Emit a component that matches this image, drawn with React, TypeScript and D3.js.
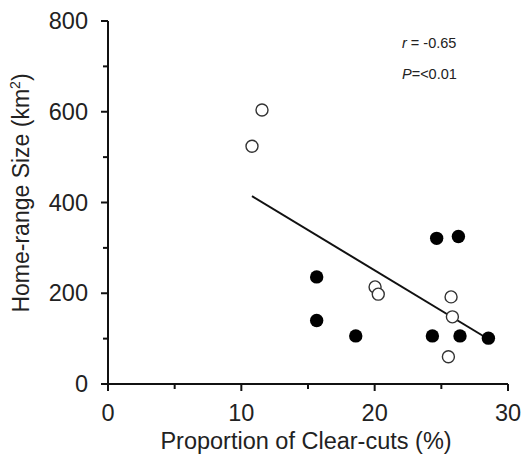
import * as d3 from "d3";

// values
const openX = [10.8, 11.55, 20.03, 20.27, 25.73, 25.83, 25.53];
const openY = [524, 604, 214, 198, 192, 148, 60];
const filledX = [24.65, 26.28, 15.65, 15.65, 18.58, 24.33, 26.4, 28.53];
const filledY = [321, 325, 236, 140, 106, 106, 106, 101];
const fitX = [10.8, 28.3];
const fitY = [414, 103];
const xTicks = [0, 10, 20, 30];
const xMinor = [5, 15, 25];
const yTicks = [0, 200, 400, 600, 800];
const yMinor = [100, 300, 500, 700];

const width = 522;
const height = 457;
const margin = {top: 21, right: 14, bottom: 73, left: 108};
const font = "Arial, 'Liberation Sans', sans-serif";

const App = () => {
    const x = d3.scaleLinear().domain([0, 30]).range([margin.left, width - margin.right]);
    const y = d3.scaleLinear().domain([0, 800]).range([height - margin.bottom, margin.top]);
    const line = d3.line<number>().x(i => x(fitX[i])).y(i => y(fitY[i]));
    const x0 = x(0);
    const y0 = y(0);

    return <svg width={width} height={height}
                style={{position: "absolute", left: 0, top: 0, background: "#fff"}}
                fontFamily={font}>
        {/* axes */}
        <g stroke="#111" strokeWidth={2} fill="none">
            <line x1={x0} x2={x(30)} y1={y0} y2={y0}/>
            <line x1={x0} x2={x0} y1={y0} y2={y(800)}/>
            {xTicks.map(t => <line key={"xt" + t} x1={x(t)} x2={x(t)} y1={y0} y2={y0 + 7}/>)}
            {xMinor.map(t => <line key={"xm" + t} x1={x(t)} x2={x(t)} y1={y0} y2={y0 + 5}/>)}
            {yTicks.map(t => <line key={"yt" + t} x1={x0} x2={x0 - 7} y1={y(t)} y2={y(t)}/>)}
            {yMinor.map(t => <line key={"ym" + t} x1={x0} x2={x0 - 5} y1={y(t)} y2={y(t)}/>)}
        </g>
        <g fontSize={23.5} fill="#222">
            {xTicks.map(t => <text key={"xl" + t} x={x(t)} y={y0 + 37} textAnchor="middle">{t}</text>)}
            {yTicks.map(t => <text key={"yl" + t} x={x0 - 20} y={y(t) + 8} textAnchor="end">{t}</text>)}
        </g>
        <text x={306} y={449} textAnchor="middle" fontSize={23.5} fill="#222">
            Proportion of Clear-cuts (%)
        </text>
        <text transform={`translate(29,193) rotate(-90)`} textAnchor="middle"
              fontSize={23} fill="#222">
            Home-range Size (km<tspan fontSize={14} dy={-9}>2</tspan><tspan dy={9}>)</tspan>
        </text>

        {/* regression line */}
        <path d={line([0, 1]) ?? ""} stroke="#111" strokeWidth={2} fill="none"/>

        {/* points */}
        {openX.map((v, i) => <circle key={"o" + i} cx={x(v)} cy={y(openY[i])} r={6}
                                     fill="#fff" stroke="#333" strokeWidth={1.4}/>)}
        {filledX.map((v, i) => <circle key={"f" + i} cx={x(v)} cy={y(filledY[i])} r={6.7}
                                       fill="#000"/>)}

        {/* stats */}
        <g fontSize={14.5} fill="#222">
            <text x={402} y={48}><tspan fontStyle="italic">r</tspan> = -0.65</text>
            <text x={402} y={79}><tspan fontStyle="italic">P</tspan>=&lt;0.01</text>
        </g>
    </svg>
}

export default App
